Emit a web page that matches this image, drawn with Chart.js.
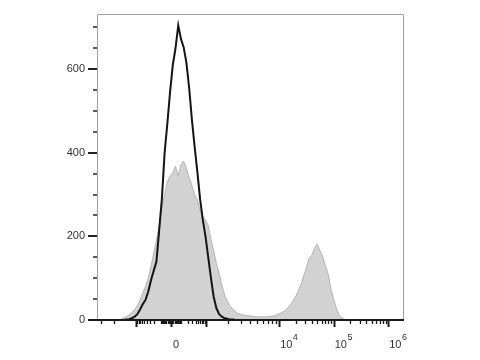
<!DOCTYPE html>
<html>
<head>
<meta charset="utf-8">
<script src="https://cdn.jsdelivr.net/npm/chart.js"></script>
<style>
  html, body { margin: 0; padding: 0; background: #fff; }
  #wrap { width: 480px; height: 360px; }
</style>
</head>
<body>
<div id="wrap"><canvas id="histChart" width="480" height="360"></canvas></div>
<script>
// Histogram bins on the biexponential display scale (display units, 1 unit = 1 decade above 10^4)
const binStart = 1.0;
const binWidth = 0.05;

// Stained sample (grey filled)
const stainedCounts = [
  0, 0, 2, 5, 8, 12, 18, 25, 35, 48, 65, 80, 100, 128, 160, 190, 225, 270, 300, 330,
  345, 352, 368, 345, 372, 380, 362, 340, 322, 300, 288, 262, 248, 240, 226, 192, 165, 135, 112, 84,
  60, 45, 34, 26, 20, 15, 14, 12, 11, 10, 9, 8, 8, 7, 8, 7, 8, 9, 10, 12,
  15, 18, 22, 28, 35, 45, 55, 70, 85, 105, 125, 148, 155, 172, 182, 165, 152, 130, 110, 75,
  50, 28, 12, 5, 2, 0
];

// Control (black line)
const controlCounts = [
  0, 0, 0, 0, 1, 2, 4, 8, 14, 25, 38, 48, 68, 95, 118, 140, 215, 290, 400, 470,
  545, 610, 650, 705, 672, 652, 615, 555, 480, 415, 355, 290, 240, 200, 150, 100, 55, 28, 14, 8,
  4, 3, 1, 1, 0, 0
];

// Axes
const yMax = 732;
const yLabels = [0, 200, 400, 600];
const yTicks = [0, 50, 100, 150, 200, 250, 300, 350, 400, 450, 500, 550, 600, 650, 700];
const xMin = 0.66;
const xMax = 6.29;
const xLabelValues = [0, 1e4, 1e5, 1e6];
const xLabelText = [['0', ''], ['10', '4'], ['10', '5'], ['10', '6']];

// value -> display units (biexponential-like)
const zeroPos = 2.018;
const thousandPos = 2.66;
function toDisplay(v) {
  const s = v < 0 ? -1 : 1;
  const a = Math.abs(v);
  let d;
  if (a < 1000) {
    d = (thousandPos - zeroPos) * Math.asinh(a / 100) / Math.asinh(10);
  } else {
    const L = Math.log10(a);
    const u = L < 4 ? thousandPos + (L - 3) * (4 - thousandPos) : L;
    d = u - zeroPos;
  }
  return zeroPos + s * d;
}

// tick marks along x: [value, major]
const xTickMarks = [];
[-1000, 0, 1000, 1e4, 1e5, 1e6].forEach(v => xTickMarks.push([v, true]));
for (let k = 1; k <= 9; k++) {
  xTickMarks.push([k * 10, false], [-k * 10, false], [k * 100, false], [-k * 100, false]);
  if (k > 1) {
    xTickMarks.push([k * 1000, false], [k * 1e4, false], [k * 1e5, false]);
    if (k <= 3) xTickMarks.push([-k * 1000, false]);
  }
}

const toPoints = counts => counts.map((c, i) => ({ x: binStart + i * binWidth, y: c }));

const axesPlugin = {
  id: 'flowAxes',
  afterDraw(chart) {
    const { ctx, chartArea: a, scales: { x, y } } = chart;
    ctx.save();
    // frame
    ctx.strokeStyle = '#a0a0a0';
    ctx.lineWidth = 1;
    ctx.beginPath();
    ctx.moveTo(a.left + 0.5, a.bottom);
    ctx.lineTo(a.left + 0.5, a.top + 0.5);
    ctx.lineTo(a.right - 0.5, a.top + 0.5);
    ctx.lineTo(a.right - 0.5, a.bottom);
    ctx.stroke();

    // y ticks
    ctx.strokeStyle = '#222';
    yTicks.forEach(v => {
      const major = v % 200 === 0;
      const py = Math.round(y.getPixelForValue(v));
      ctx.lineWidth = major ? 2 : 1.5;
      ctx.beginPath();
      ctx.moveTo(a.left - (major ? 9 : 4), py);
      ctx.lineTo(a.left, py);
      ctx.stroke();
    });

    // x axis line
    ctx.strokeStyle = '#1a1a1a';
    ctx.lineWidth = 2;
    ctx.beginPath();
    ctx.moveTo(a.left - 9, a.bottom);
    ctx.lineTo(a.right, a.bottom);
    ctx.stroke();

    // x ticks
    xTickMarks.forEach(([v, major]) => {
      const px = Math.round(x.getPixelForValue(toDisplay(v))) + 0.5;
      if (px < a.left || px > a.right) return;
      ctx.lineWidth = major ? 2 : 1.3;
      ctx.beginPath();
      ctx.moveTo(px, a.bottom);
      ctx.lineTo(px, a.bottom + (major ? 7 : 4));
      ctx.stroke();
    });

    // x labels
    ctx.fillStyle = '#333';
    ctx.textAlign = 'left';
    ctx.textBaseline = 'alphabetic';
    xLabelValues.forEach((v, i) => {
      const px = x.getPixelForValue(toDisplay(v)) + (v === 0 ? 2 : 1);
      const [base, sup] = xLabelText[i];
      ctx.font = '11px "Liberation Sans", Arial, sans-serif';
      ctx.fillText(base, px, a.bottom + 28);
      const w = ctx.measureText(base).width;
      if (sup) {
        ctx.font = '9px "Liberation Sans", Arial, sans-serif';
        ctx.fillText(sup, px + w + 0.5, a.bottom + 20);
      }
    });
    ctx.restore();
  }
};

new Chart(document.getElementById('histChart'), {
  type: 'line',
  data: {
    datasets: [
      {
        label: 'Control',
        data: toPoints(controlCounts),
        borderColor: '#141414',
        borderWidth: 2,
        fill: false,
        pointRadius: 0,
        tension: 0,
        order: 1
      },
      {
        label: 'Stained',
        data: toPoints(stainedCounts),
        borderColor: '#b4b4b4',
        backgroundColor: '#d2d2d2',
        borderWidth: 1,
        fill: 'origin',
        pointRadius: 0,
        tension: 0,
        order: 2
      }
    ]
  },
  options: {
    responsive: false,
    animation: false,
    layout: { padding: { top: 14, right: 76, bottom: 0, left: 0 } },
    plugins: { legend: { display: false }, tooltip: { enabled: false } },
    scales: {
      x: {
        type: 'linear',
        min: xMin,
        max: xMax,
        grid: { display: false },
        border: { display: false },
        ticks: { display: false },
        afterFit: s => { s.height = 40; s.paddingLeft = 0; s.paddingRight = 0; }
      },
      y: {
        min: 0,
        max: yMax,
        grid: { display: false, drawTicks: false },
        border: { display: false },
        afterBuildTicks: s => { s.ticks = yLabels.map(v => ({ value: v })); },
        afterFit: s => { s.width = 97; s.paddingTop = 0; s.paddingBottom = 0; },
        ticks: {
          padding: 12,
          color: '#333',
          font: { family: '"Liberation Sans", Arial, sans-serif', size: 11 }
        }
      }
    }
  },
  plugins: [axesPlugin]
});
</script>
</body>
</html>
